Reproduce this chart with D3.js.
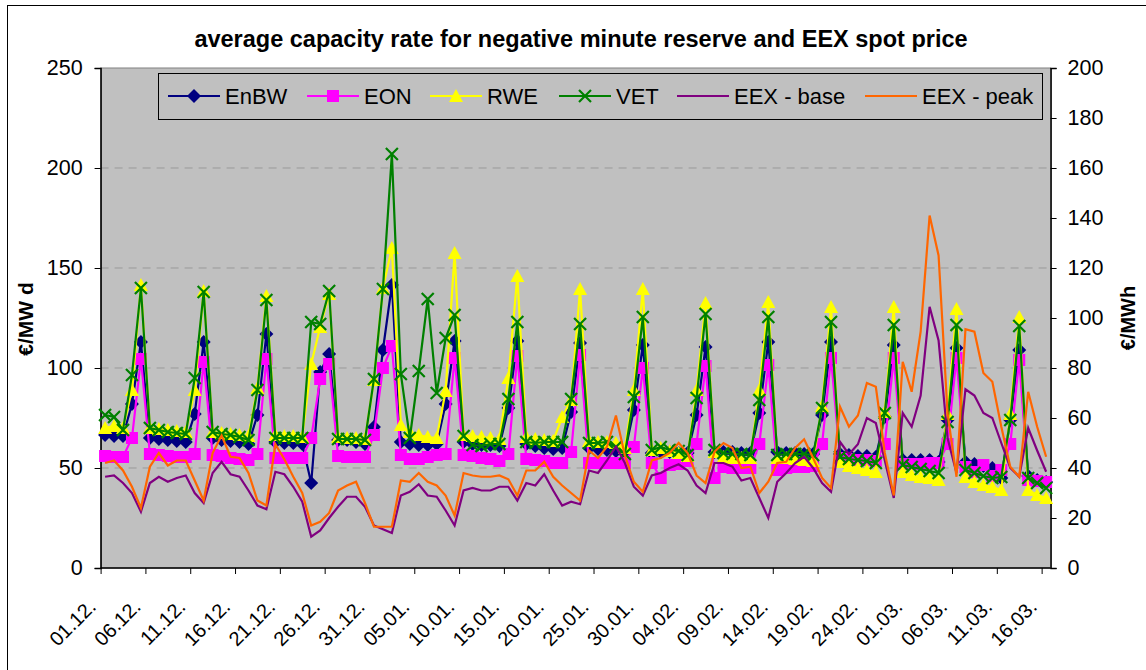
<html lang="en">
<head>
<style>
	body { margin: 0; background: #fff; }
	text { font-family: "Liberation Sans", Arial, sans-serif; }
</style>
</head>
<body>
<svg width="1146" height="670"></svg>
<script type='text/javascript' src='https://d3js.org/d3.v7.min.js'></script>
<script>
	// tick labels (every 5th day, 01.12. .. 16.03.)
	var tickLabels = ["01.12.", "06.12.", "11.12.", "16.12.", "21.12.", "26.12.", "31.12.", "05.01.", "10.01.", "15.01.", "20.01.",
		"25.01.", "30.01.", "04.02.", "09.02.", "14.02.", "19.02.", "24.02.", "01.03.", "06.03.", "11.03.", "16.03."];

	// capacity rates, €/MW d (left axis)
	var enbw = [66.5, 66, 66, 82, 113, 65, 64.5, 64, 63.5, 63, 77, 113, 65, 64, 63.5, 63, 62, 76.5, 117, 63,
		62.5, 62.5, 62, 42.5, 98, 107, 64, 64, 63, 62, 70.5, 109, 141.5, 63, 62, 61.5, 61.5, 62, 82, 113.5,
		63, 62, 61.5, 61.5, 61, 80, 113.5, 62, 61, 60, 59.5, 60, 78, 112.5, 60, 59.5, 59, 58.5, 58, 79,
		111.5, 57.5, 58, 58, 57.5, 57.5, 76.5, 110.5, 58, 58, 58, 57.5, 57.5, 77.5, 113, 58, 57.5, 57.5, 57, 57,
		76.5, 113, 57, 56.5, 56, 56, 55.5, 75.5, 111.5, 54, 54, 54, 54, 53, 74, 110, 53, 52, 51, 50,
		45, 74, 109, 46, 44, 43];
	var eon = [56, 55.5, 55.5, 65, 104.5, 57, 56.5, 56, 55.5, 55.5, 57, 103, 56.5, 56, 55, 54.5, 54, 57, 104.5, 55,
		55, 55, 55, 65, 94.5, 102, 56, 55.5, 55.5, 55.5, 66.5, 100, 111, 56.5, 54.5, 54.5, 55.5, 56.5, 57, 105,
		56.5, 56, 55, 54.5, 53.5, 57, 106, 54.5, 54, 53.5, 52.5, 52.5, 58, 106.5, 52.5, 52.5, 52.5, 52.5, 52.5, 60.5,
		100, 52.5, 45, 51.5, 52, 53.5, 62, 101, 45, 50.5, 50, 50, 50, 62, 101.5, 49, 50, 50.5, 50.5, 51,
		62, 105, 55, 54.5, 54, 54, 53.5, 62, 105, 52, 52, 52, 52.5, 52.5, 62, 105, 50.5, 48, 51.5, 46,
		49, 62, 104, 44, 43.5, 43];
	var rwe = [70, 71, 70, 89, 141.5, 70, 69.5, 69, 68.5, 68, 89, 138.5, 68, 67.5, 67, 66.5, 66, 90, 136, 66.5,
		66, 66, 65.5, 102, 120.5, 137, 65.5, 65, 65, 64.5, 94, 140, 160, 71.5, 68, 66.5, 65.5, 65, 88.5, 157.5,
		66.5, 66, 65.5, 65, 64.5, 95, 146, 65.5, 64.5, 64, 63.5, 75.5, 84, 139.5, 63.5, 63, 63, 62.5, 60, 89,
		139.5, 59, 60, 58.5, 57.5, 56, 89, 132.5, 58, 55.5, 55, 55, 55, 89, 133, 55, 55, 54.5, 54, 53.5,
		81, 130.5, 53, 51, 50, 49, 48, 78, 130.5, 48, 46.5, 45.5, 45, 44, 77, 129.5, 45.5, 43, 41.5, 40.5,
		39, 77, 125.5, 39, 36.5, 35];
	var vet = [76.5, 75.5, 69, 96.5, 140, 70, 69, 68, 67.5, 67, 95, 138, 68, 67, 66.5, 65.5, 64, 89, 134, 65,
		65, 65, 65, 123, 122, 138.5, 64.5, 64.5, 64.5, 64, 94.5, 139.5, 207, 97, 65, 98.5, 134.5, 87.5, 115, 126.5,
		66, 61.5, 61, 62, 62, 84.5, 123, 63, 62.5, 63, 63, 63, 84.5, 122, 62.5, 62.5, 63, 60.5, 57, 85.5,
		125.5, 59, 60.5, 59, 58.5, 56.5, 85, 127, 59, 57.5, 57, 57, 56.5, 84, 125.5, 56.5, 57, 57, 57, 56.5,
		80, 123, 55.5, 54.5, 54, 53.5, 52.5, 77.5, 121.5, 51.5, 50.5, 49.5, 48.5, 47.5, 73, 121.5, 49, 47.5, 46, 45,
		45.5, 74, 121, 45, 42.5, 40];

	// EEX spot price, €/MWh (right axis)
	var eexBase = [36.5, 37, 34, 30, 22.5, 34, 36.5, 34.5, 36, 37, 30, 26, 38, 42.5, 37.5, 36.5, 31, 25, 23.5, 38.5,
		37.5, 32.5, 26.5, 12.5, 15, 20, 24.5, 28.5, 28.5, 24.5, 17, 15.5, 14, 29, 30.5, 33.5, 29, 28.5, 23, 17,
		31, 32, 31, 31, 32.5, 32.5, 27, 34, 33, 37.5, 31, 25, 26.5, 25.5, 39, 38, 43, 48.5, 42, 32.5,
		29, 37, 38, 40, 41.5, 39, 33, 30, 42, 42, 40.5, 35, 36, 28, 20, 34.5, 38, 42, 44.5, 40,
		34, 30.5, 50.5, 45.5, 49.5, 60, 58, 43, 28, 62, 56.5, 69, 104.5, 91, 52, 38, 71.5, 69, 62, 60,
		50, 40, 36.5, 56, 47, 38.5];
	var eexPeak = [42, 43, 39, 32.5, 24, 40.5, 46, 41, 43, 43, 35, 27, 46, 53, 44.5, 44, 38, 27, 25, 49.5,
		43.5, 36.5, 30, 17, 18.5, 22, 31, 33, 34.5, 26, 16.5, 16.5, 16.5, 35, 34.5, 38, 34.5, 33, 29, 21,
		38, 37, 36.5, 36.5, 37, 35.5, 29, 39, 39, 42.5, 36.5, 33, 30, 27, 47, 44, 48.5, 61, 45, 34.5,
		30.5, 43, 44, 46, 50, 46, 37, 34, 46.5, 50, 48, 40, 40.5, 30, 34.5, 42, 42.5, 48, 51.5, 44,
		36, 32, 64.5, 56.5, 61, 74, 72.5, 46, 29, 82.5, 70.5, 94.5, 141, 125, 62, 36.5, 95.5, 94.5, 78, 74.5,
		56.5, 40.5, 36.5, 70.5, 56.5, 44.5];

	var svg = d3.select("svg");
	var pLeft = 100.6, pRight = 1050.6, pTop = 68, pBottom = 568;

	var x = d3.scaleBand().domain(d3.range(enbw.length)).range([pLeft, pRight]);
	var xb = d3.scaleLinear().domain([0, enbw.length]).range([pLeft, pRight]);
	function cx(i) { return x(i) + x.bandwidth() / 2; }
	var yL = d3.scaleLinear().domain([0, 250]).range([pBottom, pTop]);
	var yR = d3.scaleLinear().domain([0, 200]).range([pBottom, pTop]);

	// chart border (the picture is cut at right and bottom)
	svg.append("rect").attr("x", 7.5).attr("y", 5.5).attr("width", 1200).attr("height", 700)
		.attr("fill", "#fff").attr("stroke", "#000");

	// plot area
	svg.append("rect").attr("x", pLeft).attr("y", pTop).attr("width", pRight - pLeft).attr("height", pBottom - pTop)
		.attr("fill", "#c0c0c0").attr("stroke", "#808080");

	// gridlines
	svg.append("g").selectAll("line").data([50, 100, 150, 200]).enter().append("line")
		.attr("x1", pLeft).attr("x2", pRight)
		.attr("y1", function(d) { return yL(d); }).attr("y2", function(d) { return yL(d); })
		.attr("stroke", "#999").attr("stroke-dasharray", "8,6");

	// title
	svg.append("text").attr("x", 581).attr("y", 47).attr("text-anchor", "middle")
		.attr("font-size", "23.5px").attr("font-weight", "bold")
		.text("average capacity rate for negative minute reserve and EEX spot price");

	// axes
	var gl = svg.append("g").attr("transform", "translate(" + pLeft + ",0)")
		.call(d3.axisLeft(yL).tickValues(d3.range(0, 251, 50)).tickSize(6).tickPadding(12));
	var gr = svg.append("g").attr("transform", "translate(" + pRight + ",0)")
		.call(d3.axisRight(yR).tickValues(d3.range(0, 201, 20)).tickSize(6).tickPadding(11));
	var gb = svg.append("g").attr("transform", "translate(0," + pBottom + ")")
		.call(d3.axisBottom(xb).tickValues(d3.range(0, enbw.length, 5)).tickSize(6).tickFormat(""));
	[gl, gr, gb].forEach(function(g) {
		g.select(".domain").attr("stroke", "#000").attr("stroke-width", 1.5);
		g.selectAll(".tick line").attr("stroke", "#000");
		g.selectAll("text").attr("font-size", "21.5px").attr("fill", "#000")
			.attr("font-family", "'Liberation Sans', Arial, sans-serif");
	});
	gb.select(".domain").attr("d", "M" + pLeft + ",0H" + pRight);

	svg.append("g").selectAll("text").data(tickLabels).enter().append("text")
		.attr("transform", function(d, k) {
			return "translate(" + (cx(k * 5) - 8) + "," + 608 + ") rotate(-45)";
		})
		.attr("text-anchor", "end").attr("font-size", "20px")
		.text(function(d) { return d; });

	// axis titles
	svg.append("text").attr("transform", "translate(33,319) rotate(-90)").attr("text-anchor", "middle")
		.attr("font-size", "21px").attr("font-weight", "bold").text("€/MW d");
	svg.append("text").attr("transform", "translate(1135,318) rotate(-90)").attr("text-anchor", "middle")
		.attr("font-size", "20px").attr("font-weight", "bold").text("€/MWh");

	// markers
	var markers = {
		diamond: "M0,-7L7,0L0,7L-7,0Z",
		square: "M-6,-6H6V6H-6Z",
		triangle: "M0,-7L7,6H-7Z",
		cross: "M-6,-6L6,6M-6,6L6,-6"
	};

	var series = [
		{ name: "EnBW", values: enbw, y: yL, color: "#000080", marker: "diamond" },
		{ name: "EON", values: eon, y: yL, color: "#ff00ff", marker: "square" },
		{ name: "RWE", values: rwe, y: yL, color: "#ffff00", marker: "triangle" },
		{ name: "VET", values: vet, y: yL, color: "#008000", marker: "cross" },
		{ name: "EEX - base", values: eexBase, y: yR, color: "#800080", marker: null },
		{ name: "EEX - peak", values: eexPeak, y: yR, color: "#ff6600", marker: null }
	];

	function drawMarker(sel, s) {
		sel.append("path").attr("d", markers[s.marker])
			.attr("fill", s.marker == "cross" ? "none" : s.color)
			.attr("stroke", s.marker == "cross" ? s.color : "none")
			.attr("stroke-width", 2.2);
	}

	series.forEach(function(s) {
		var line = d3.line().x(function(d, i) { return cx(i); }).y(function(d) { return s.y(d); });
		var g = svg.append("g");
		g.append("path").datum(s.values).attr("d", line)
			.attr("fill", "none").attr("stroke", s.color).attr("stroke-width", 2.2);
		if (s.marker) {
			g.selectAll("g").data(s.values).enter().append("g")
				.attr("transform", function(d, i) { return "translate(" + cx(i) + "," + s.y(d) + ")"; })
				.each(function() { drawMarker(d3.select(this), s); });
		}
	});

	// legend
	var legend = svg.append("g");
	legend.append("rect").attr("x", 158.5).attr("y", 73.5).attr("width", 884).attr("height", 46)
		.attr("fill", "#c0c0c0").attr("stroke", "#000");
	var legendX = [168, 307, 430, 559, 677, 865];
	series.forEach(function(s, k) {
		var g = legend.append("g").attr("transform", "translate(" + legendX[k] + ",96)");
		g.append("line").attr("x1", 0).attr("x2", 52).attr("stroke", s.color).attr("stroke-width", 2.2);
		if (s.marker) drawMarker(g.append("g").attr("transform", "translate(26,0)"), s);
		g.append("text").attr("x", 57).attr("y", 8).attr("font-size", "22px").text(s.name);
	});
</script>
</body>
</html>
